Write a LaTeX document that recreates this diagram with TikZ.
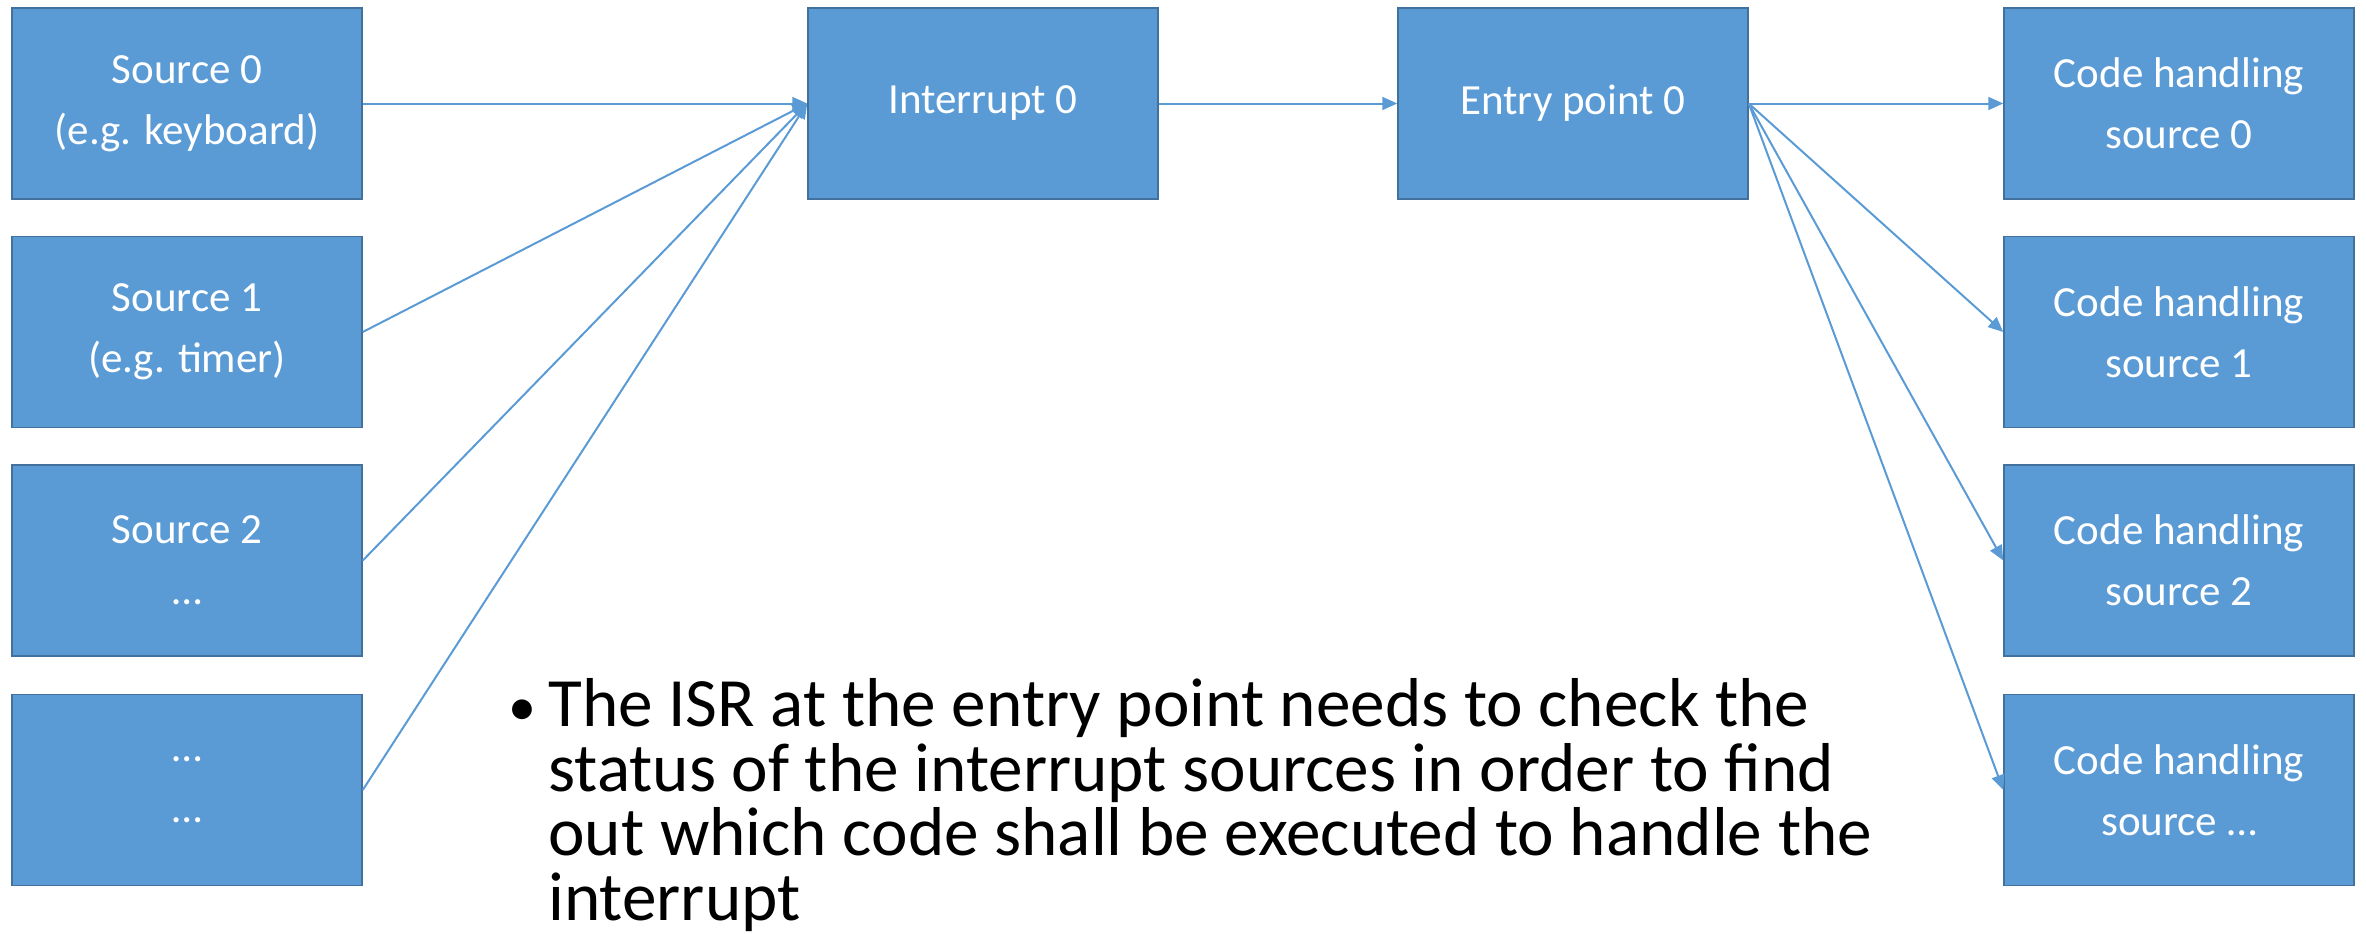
\documentclass[tikz,border=0pt]{standalone}
\usepackage{fontspec}
\setmainfont{Carlito}
\usetikzlibrary{arrows.meta}
\definecolor{boxblue}{HTML}{5B9BD5}
\definecolor{boxedge}{HTML}{41719C}

\begin{document}
\begin{tikzpicture}[x=0.5pt,y=-0.5pt,
  blk/.style={draw=boxedge,line width=0.75pt,fill=boxblue,text=white,
    minimum width=175pt,minimum height=95.5pt,align=center,inner sep=0pt,
    font=\fontsize{21.5}{30.5}\selectfont},
  link/.style={draw=boxblue,line width=1pt,
    -{Triangle[length=7.5pt,width=6.5pt]}}]
  \useasboundingbox (0,0) rectangle (2366,933);
  % interrupt sources
  \node[blk] (src0) at (187,103.5) {Source 0\\(e.g. keyboard)};
  \node[blk] (src1) at (187,332) {Source 1\\(e.g. timer)};
  \node[blk] (src2) at (187,560.5) {Source 2\\…};
  \node[blk] (src3) at (187,790) {…\\…};
  % one interrupt line and its entry point
  \node[blk] (irq) at (983,103.5) {Interrupt 0};
  \node[blk] (entry) at (1573,103.5) {Entry point 0};
  % handlers
  \node[blk] (code0) at (2179,103.5) {Code handling\\source 0};
  \node[blk] (code1) at (2179,332) {Code handling\\source 1};
  \node[blk] (code2) at (2179,560.5) {Code handling\\source 2};
  \node[blk] (code3) at (2179,790) {Code handling\\source …};

  \foreach \s in {src0,src1,src2,src3}
    \draw[link] (\s.east) -- (irq.west);
  \draw[link] (irq) -- (entry);
  \foreach \c in {code0,code1,code2,code3}
    \draw[link] (entry.east) -- (\c.west);

  \node[anchor=base west,inner sep=0pt,font=\fontsize{28}{32}\selectfont]
    (bullet) at (508,725) {•};
  \node[anchor=base west,inner sep=0pt,align=left,
    font=\fontsize{34.6}{32.2}\selectfont] (isr) at (548,920)
    {The ISR at the entry point needs to check the\\
     status of the interrupt sources in order to find\\
     out which code shall be executed to handle the\\
     interrupt};
\end{tikzpicture}
\end{document}
